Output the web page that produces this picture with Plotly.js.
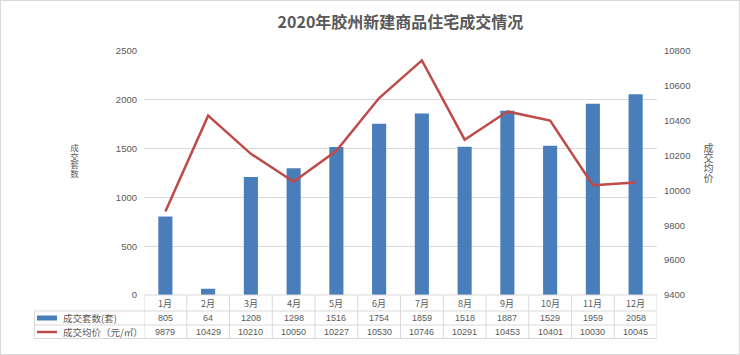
<!DOCTYPE html>
<html><head><meta charset="utf-8">
<script src="https://cdn.plot.ly/plotly-3.0.1.min.js"></script>
<style>
body{margin:0;background:#fff;}
#wrap{position:relative;width:740px;height:355px;}
#chart{width:740px;height:355px;}
#frame{position:absolute;left:0;top:0;width:738px;height:353px;border:1px solid #d9d9d9;pointer-events:none;}
.vt{position:absolute;writing-mode:vertical-rl;text-orientation:upright;line-height:1;color:#595959;font-family:'Noto Sans CJK SC',sans-serif;letter-spacing:0;white-space:nowrap;}
</style></head>
<body><div id="wrap"><div id="chart"></div><div id="frame"></div>
<div id="ltitle" class="vt" style="left:70px;top:144px;font-size:8.5px;"></div>
<div id="rtitle" class="vt" style="left:703px;top:143px;font-size:10px;"></div>
</div>
<script>
const months = ['1月','2月','3月','4月','5月','6月','7月','8月','9月','10月','11月','12月'];
const units = [805,64,1208,1298,1516,1754,1859,1518,1887,1529,1959,2058];
const prices = [9879,10429,10210,10050,10227,10530,10746,10291,10453,10401,10030,10045];
const seriesNames = ['成交套数(套)','成交均价（元/㎡）'];
const chartTitle = '2020年胶州新建商品住宅成交情况';
const leftTitle = '成交套数';
const rightTitle = '成交均价';

document.getElementById('ltitle').textContent = leftTitle;
document.getElementById('rtitle').textContent = rightTitle;

const FONT = 'Liberation Sans, Noto Sans CJK SC, sans-serif';
const CJK = 'Noto Sans CJK SC, sans-serif';
const TXT = '#595959';
const GRID = '#d9d9d9';
const BLUE = '#4a7ebb';
const RED = '#be4b48';

const plotTop = 51, plotBot = 295, plotL = 144, plotR = 657;
const H = plotBot - plotTop, W = plotR - plotL;
const py = p => (plotBot - p) / H;
const px = p => (p - plotL) / W;

const rows = [303, 318, 331.5];
const lines = [295, 311, 325, 338.5];

const traces = [
  {type:'bar', x: months, y: units, name: seriesNames[0], marker:{color:BLUE}, yaxis:'y', hoverinfo:'none'},
  {type:'scatter', mode:'lines', x: months, y: prices, name: seriesNames[1], line:{color:RED, width:2.5}, yaxis:'y2', hoverinfo:'none'}
];

const annotations = [];
const shapes = [];
months.forEach((m,i)=>{
  annotations.push({xref:'x', yref:'paper', x:i, y:py(rows[0]), text:m, showarrow:false, font:{family:CJK, size:9, color:TXT}, xanchor:'center', yanchor:'middle'});
  annotations.push({xref:'x', yref:'paper', x:i, y:py(rows[1]), text:String(units[i]), showarrow:false, font:{family:FONT, size:9, color:TXT}, xanchor:'center', yanchor:'middle'});
  annotations.push({xref:'x', yref:'paper', x:i, y:py(rows[2]), text:String(prices[i]), showarrow:false, font:{family:FONT, size:9, color:TXT}, xanchor:'center', yanchor:'middle'});
});
// table grid
for (let i=0;i<=months.length;i++){
  shapes.push({type:'line', xref:'x', yref:'paper', x0:i-0.5, x1:i-0.5, y0:py(lines[0]), y1:py(lines[3]), line:{color:GRID, width:1}});
}
shapes.push({type:'line', xref:'paper', yref:'paper', x0:px(plotL), x1:1, y0:py(lines[0]), y1:py(lines[0]), line:{color:GRID, width:1}});
for (let k=1;k<4;k++){
  shapes.push({type:'line', xref:'paper', yref:'paper', x0:px(34), x1:1, y0:py(lines[k]), y1:py(lines[k]), line:{color:GRID, width:1}});
}
shapes.push({type:'line', xref:'paper', yref:'paper', x0:px(34.5), x1:px(34.5), y0:py(lines[1]), y1:py(lines[3]), line:{color:GRID, width:1}});
// legend keys
shapes.push({type:'rect', xref:'paper', yref:'paper', x0:px(37), x1:px(57), y0:py(320.5), y1:py(315.5), fillcolor:BLUE, line:{width:0}});
shapes.push({type:'line', xref:'paper', yref:'paper', x0:px(37), x1:px(57), y0:py(332), y1:py(332), line:{color:RED, width:2.5}});
annotations.push({xref:'paper', yref:'paper', x:px(61), y:py(rows[1]), text:seriesNames[0], showarrow:false, xanchor:'left', yanchor:'middle', font:{family:CJK, size:9.5, color:TXT}});
annotations.push({xref:'paper', yref:'paper', x:px(61), y:py(rows[2]), text:seriesNames[1], showarrow:false, xanchor:'left', yanchor:'middle', font:{family:CJK, size:9.5, color:TXT}});

const layout = {
  width:740, height:355,
  margin:{l:plotL, r:740-plotR, t:plotTop, b:355-plotBot, pad:0},
  paper_bgcolor:'#fff', plot_bgcolor:'#fff',
  showlegend:false,
  bargap:0.67,
  title:{text:'<b>'+chartTitle+'</b>', x:0.5, xref:'paper', xanchor:'center', y:1-22/355, yref:'container', yanchor:'middle', font:{family:CJK, size:16, color:TXT}},
  xaxis:{type:'category', showticklabels:false, ticks:'', showgrid:false, zeroline:false, showline:false, range:[-0.5, 11.5], fixedrange:true},
  yaxis:{range:[0,2500], tickvals:[0,500,1000,1500,2000,2500], tickformat:'d', showgrid:true, gridcolor:GRID, gridwidth:1, zeroline:false, showline:false, ticks:'', ticklabelstandoff:6, tickfont:{family:FONT, size:9.5, color:TXT}},
  yaxis2:{overlaying:'y', side:'right', range:[9400,10800], tickvals:[9400,9600,9800,10000,10200,10400,10600,10800], tickformat:'d', showgrid:false, zeroline:false, showline:false, ticks:'', ticklabelstandoff:6, tickfont:{family:FONT, size:9.5, color:TXT}},
  annotations, shapes
};
Plotly.newPlot('chart', traces, layout, {displayModeBar:false, staticPlot:true});
</script></body></html>
